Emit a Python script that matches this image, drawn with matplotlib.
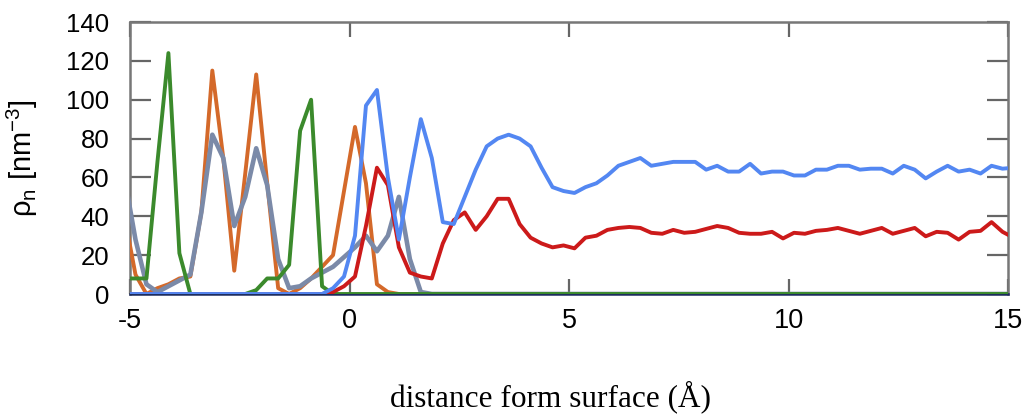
import numpy as np
import matplotlib
matplotlib.use("Agg")
import matplotlib.pyplot as plt

# sampling positions (bin centres, 0.25 A spacing)
distance = np.linspace(-5.125, 15.125, 82)

green = [8, 8, 8, 68, 124, 21, 0, 0, 0, 0, 0, 0, 2, 8, 8, 15, 84, 100, 4] + [0] * 63

orange = [40, 10, 0, 3, 5, 8, 9, 42, 115, 70, 12, 62, 113, 57, 3, 0, 3, 8, 14, 20,
          53, 86, 57, 5, 1] + [0] * 57

gray = [60, 28, 5, 1, 4, 7, 10, 42, 82, 70, 35, 50, 75, 56, 18, 3, 4, 8, 11, 14,
        19, 24, 30, 22, 30, 50, 18, 1] + [0] * 54

red = [0] * 19 + [1, 4, 9, 35, 65, 56, 24, 11, 9, 8, 26, 38, 42, 33, 40, 49, 49, 36,
                  29, 26, 24, 25, 23.5, 29, 30, 33, 34, 34.5, 34, 31.5, 31, 33, 31.5,
                  32, 33.5, 35, 34, 31.5, 31, 31, 32, 28.6, 31.5, 31, 32.5, 33, 34,
                  32.5, 31, 32.5, 34, 31, 32.5, 34, 29.7, 32, 31.5, 28, 32, 32.5, 37,
                  32, 29]

blue = [0] * 19 + [3, 9, 30, 97, 105, 60, 28, 60, 90, 70, 37, 36, 50, 64, 76, 80, 82,
                   80, 76, 65, 55, 53, 52, 55, 57, 61, 66, 68, 70, 66, 67, 68, 68, 68,
                   64, 66, 63, 63, 67, 62, 63, 63, 61, 61, 64, 64, 66, 66, 64, 64.5,
                   64.5, 62, 66, 64, 59.5, 63, 66, 63, 64, 62, 66, 64.5, 65]

xticks = [-5, 0, 5, 10, 15]
yticks = [0, 20, 40, 60, 80, 100, 120, 140]

fig = plt.figure(figsize=(10.33, 4.16), dpi=100)
ax = fig.add_axes([130 / 1033, 1 - 294 / 416, 878 / 1033, 272 / 416])

lw = 2.8
ax.plot(distance, orange, color="#d4692a", lw=lw, zorder=3)
ax.plot(distance, gray, color="#7b8aa8", lw=lw + 0.5, zorder=3)
ax.plot(distance, green, color="#3b8a2c", lw=lw, zorder=3)
ax.plot(distance, red, color="#cc1a1a", lw=lw, zorder=3)
ax.plot(distance, blue, color="#5387f2", lw=lw, zorder=3.1)

ax.set_xlim(-5, 15)
ax.set_ylim(0, 140)
ax.set_xticks(xticks)
ax.set_yticks(yticks)
ax.set_xticklabels([str(t) for t in xticks], family="Liberation Sans", fontsize=19.5)
ax.set_yticklabels([str(t) for t in yticks], family="Liberation Sans", fontsize=18.5)

ax.tick_params(axis="x", direction="in", length=11, width=1.6, color="#666666",
               top=True, bottom=True, pad=10)
ax.tick_params(axis="y", direction="in", length=15, width=1.6, color="#666666",
               left=True, right=True, pad=15)
for s in ax.spines.values():
    s.set_color("#777777")
    s.set_linewidth(1.8)
ax.spines["bottom"].set_color("#1d2c5e")

ax.set_ylabel("ρ$_\\mathregular{n}$ [nm$^{\\mathregular{-3}}$]", fontsize=21,
              family="Liberation Sans")
ax.yaxis.set_label_coords(-0.102, 0.5)
fig.text(550 / 1033, 1 - 397 / 416, "distance form surface (Å)", ha="center", va="center",
         family="Liberation Serif", fontsize=22.5)

fig.savefig("out.png", dpi=100)
